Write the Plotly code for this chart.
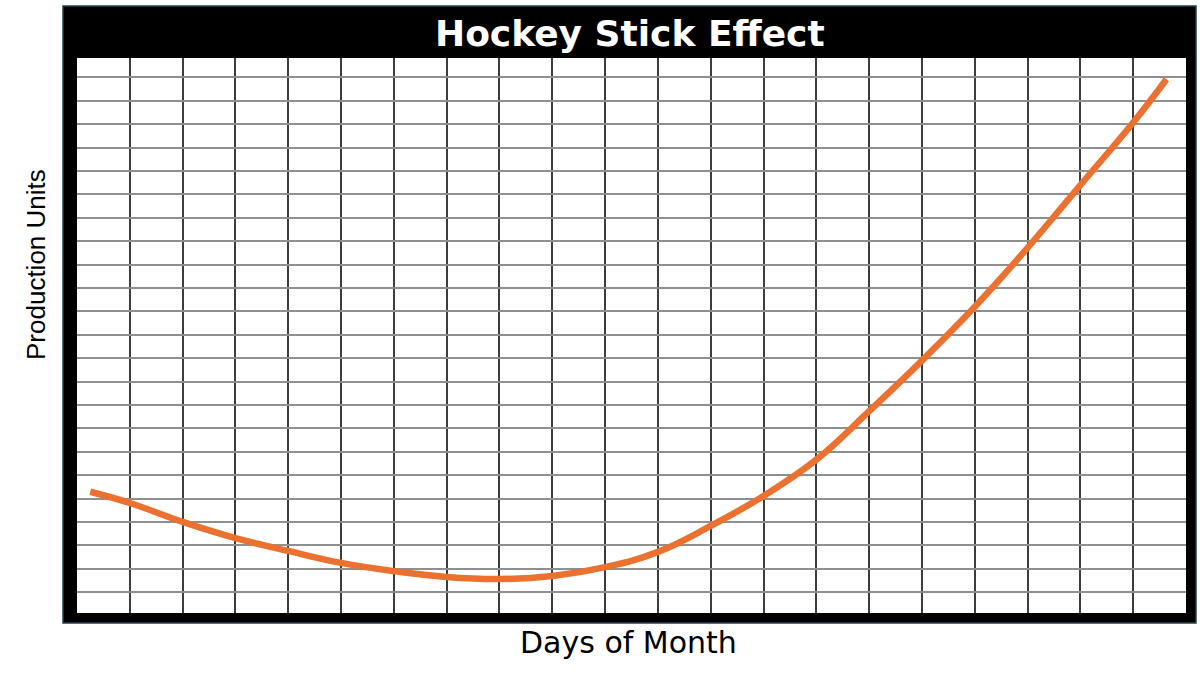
import plotly.graph_objects as go

# Data
days = [0.25, 1, 2, 3, 4, 5, 6, 7, 8, 9, 10, 11, 12, 13, 14, 15, 16, 17, 18, 19, 20, 20.63]
units = [5.18, 4.70, 3.89, 3.20, 2.65, 2.14, 1.79, 1.54, 1.45, 1.58, 1.96, 2.61,
         3.72, 5.00, 6.55, 8.62, 10.78, 13.08, 15.60, 18.28, 20.95, 22.80]

title_text = "Hockey Stick Effect"
x_title = "Days of Month"
y_title = "Production Units"

W, H = 1200, 675
L, R, T, B = 77, 14, 58, 62
pw, ph = W - L - R, H - T - B

def px_x(p):
    return (p - L) / pw

def px_y(p):
    return (H - B - p) / ph

fig = go.Figure()
fig.add_trace(go.Scatter(
    x=days, y=units, mode="lines",
    line=dict(color="#EB7130", width=6.5, shape="spline", smoothing=1.2),
    hoverinfo="skip", showlegend=False,
))

# black frame + title bar
fig.add_shape(type="rect", xref="paper", yref="paper", layer="below",
              x0=px_x(63), x1=px_x(1196), y0=px_y(623), y1=px_y(6),
              fillcolor="#000000", line=dict(color="#23404e", width=1.5))
# white plotting area
fig.add_shape(type="rect", xref="paper", yref="paper", layer="below",
              x0=0, x1=1, y0=0, y1=1,
              fillcolor="#ffffff", line=dict(width=0))

fig.add_annotation(text=title_text, xref="paper", yref="paper",
                   x=px_x(630), y=px_y(33), xanchor="center", yanchor="middle",
                   showarrow=False,
                   font=dict(family="DejaVu Sans", size=36, color="white", weight="bold"))
fig.add_annotation(text=x_title, xref="paper", yref="paper",
                   x=px_x(628), y=px_y(643), xanchor="center", yanchor="middle",
                   showarrow=False,
                   font=dict(family="DejaVu Sans", size=30, color="black"))
fig.add_annotation(text=y_title, xref="paper", yref="paper",
                   x=px_x(36), y=px_y(265), xanchor="center", yanchor="middle",
                   textangle=-90, showarrow=False,
                   font=dict(family="Liberation Sans Narrow, Liberation Sans", size=26, color="black"))

fig.update_xaxes(range=[0, 21], tick0=0, dtick=1, showgrid=True,
                 gridcolor="#3c3c3c", gridwidth=1.6, showticklabels=False,
                 zeroline=False, showline=False, ticks="", fixedrange=True)
fig.update_yaxes(range=[0, ph / 23.41], tick0=0.884, dtick=1, showgrid=True,
                 gridcolor="#8f8f8f", gridwidth=1.6, showticklabels=False,
                 zeroline=False, showline=False, ticks="", fixedrange=True)

fig.update_layout(
    width=W, height=H,
    margin=dict(l=L, r=R, t=T, b=B, pad=0),
    paper_bgcolor="white", plot_bgcolor="white",
    showlegend=False,
)

fig.write_html("out.html", config={"displayModeBar": False},
               post_script="document.body.style.margin='0';document.body.style.overflow='hidden';")
